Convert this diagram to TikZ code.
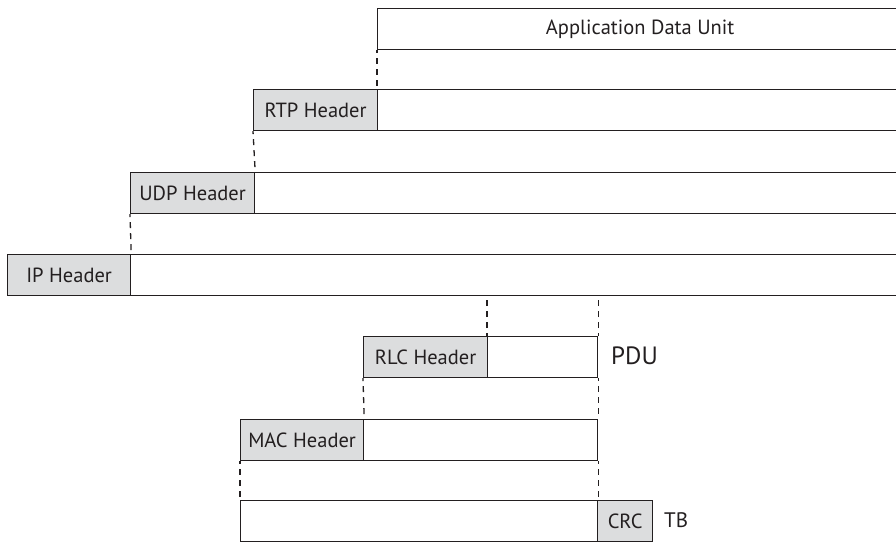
\documentclass[tikz,border=0pt]{standalone}
\usepackage{fontspec}
\setmainfont{PT Sans}
\definecolor{ink}{HTML}{231F20}
\definecolor{hdrgrey}{HTML}{DCDDDE}
\begin{document}
\begin{tikzpicture}[x=1pt,y=-1pt,
  field/.style={draw=ink, line width=1.2pt, anchor=north west, inner sep=0pt,
    minimum height=41pt, text=ink, font=\fontsize{20.5}{24}\selectfont},
  hdr/.style={field, fill=hdrgrey},
  pay/.style={field, fill=white},
  guide/.style={draw=ink, line width=1.3pt, dash pattern=on 6pt off 5pt, dash phase=3pt},
  tag/.style={anchor=west, text=ink, inner sep=0pt}]
\useasboundingbox (0,0) rectangle (896,542);
% application layer
\node[pay, minimum width=525pt] (app) at (377,8) {Application Data Unit};
% RTP
\node[hdr, minimum width=124pt] (rtp) at (253,89) {RTP Header};
\node[pay, minimum width=525pt] (rtpd) at (377,89) {};
% UDP
\node[hdr, minimum width=124pt] (udp) at (130,172) {UDP Header};
\node[pay, minimum width=770pt] (udpd) at (254,172) {};
% IP
\node[hdr, minimum width=123pt] (ip) at (7,254) {IP Header};
\node[pay, minimum width=770pt] (ipd) at (130,254) {};
% RLC PDU
\node[hdr, minimum width=124pt] (rlc) at (363,336) {RLC Header};
\node[pay, minimum width=110pt] (rlcd) at (487,336) {};
% MAC
\node[hdr, minimum width=123pt] (mac) at (240,419) {MAC Header};
\node[pay, minimum width=234pt] (macd) at (363,419) {};
% transport block
\node[pay, minimum width=357pt] (tbd) at (240,500) {};
\node[hdr, minimum width=55pt] (crc) at (597,500) {CRC};
% labels
\node[tag, font=\fontsize{25}{30}\selectfont] (pdu) at (611,356) {PDU};
\node[tag, font=\fontsize{21}{25}\selectfont] (tb) at (664,520) {TB};
% mapping guides
\draw[guide] (app.south west) -- (rtpd.north west);
\draw[guide] (rtp.south west) -- (udp.north east);
\draw[guide] (udp.south west) -- (ip.north east);
\draw[guide] (rlcd.north west) -- (rlcd.north west |- ipd.south);
\draw[guide] (rlcd.north east) -- (rlcd.north east |- ipd.south);
\draw[guide] (rlc.south west) -- (mac.north east);
\draw[guide] (rlcd.south east) -- (macd.north east);
\draw[guide] (mac.south west) -- (tbd.north west);
\draw[guide] (macd.south east) -- (tbd.north east);
\end{tikzpicture}
\end{document}
